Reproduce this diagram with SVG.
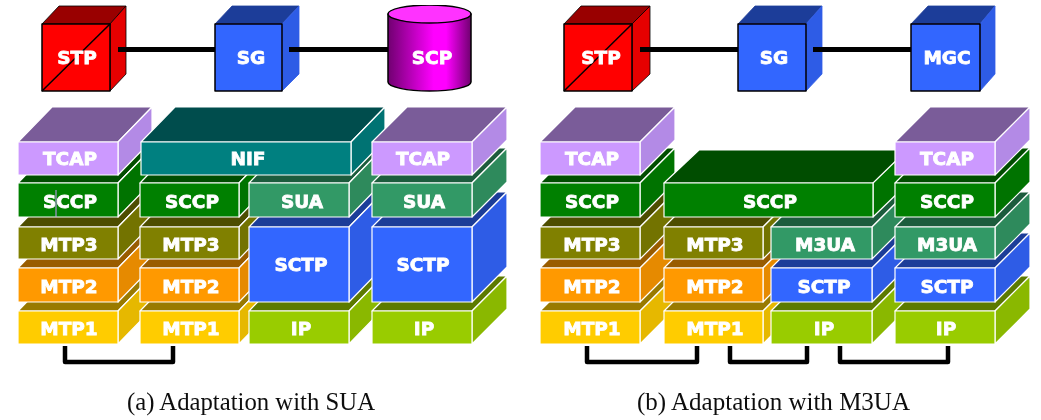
<svg xmlns="http://www.w3.org/2000/svg" width="1041" height="420" viewBox="0 0 1041 420">
<style>
.all{filter:url(#soft)}
.lay rect,.lay path{stroke:#fff;stroke-width:1.2;stroke-linejoin:round}
.lay text,.dev text{font-family:"DejaVu Sans",sans-serif;font-weight:700;font-size:18.5px;fill:#fff;text-anchor:middle;stroke:#fff;stroke-width:.8}
.dev rect,.dev path,.dev ellipse{stroke:#000;stroke-width:1.5;stroke-linejoin:round}
.red .f{fill:#f00}.red .t{fill:#990000;stroke-width:.8}.red .s{fill:#e60000;stroke-width:.8}
.blue .f{fill:#36f}.blue .t{fill:#1f3d99;stroke:#1f3d99;stroke-width:.8}.blue .s{fill:#2e5ce6;stroke:#2e5ce6;stroke-width:.8}
.tcap .f{fill:#c9f}.tcap .t{fill:#7a5c99}.tcap .s{fill:#b38ae6}
.sccp .f{fill:#008000}.sccp .t{fill:#004d00}.sccp .s{fill:#007300}
.mtp3 .f{fill:#808000}.mtp3 .t{fill:#4d4d00}.mtp3 .s{fill:#737300}
.mtp2 .f{fill:#f90}.mtp2 .t{fill:#995c00}.mtp2 .s{fill:#e68a00}
.mtp1 .f{fill:#fc0}.mtp1 .t{fill:#997a00}.mtp1 .s{fill:#e6b800}
.ip .f{fill:#9c0}.ip .t{fill:#5c7a00}.ip .s{fill:#8ab800}
.sctp .f{fill:#36f}.sctp .t{fill:#1f3d99}.sctp .s{fill:#2e5ce6}
.ua .f{fill:#396}.ua .t{fill:#1f5c3d}.ua .s{fill:#2e8a5c}
.nif .f{fill:#008080}.nif .t{fill:#004d4d}.nif .s{fill:#007373}
.cap{font-family:"Liberation Serif",serif;font-size:25px;fill:#111}
.link{stroke:#000;stroke-width:5;fill:none}
.br{stroke:#000;stroke-width:4.5;fill:none;stroke-linejoin:round}
</style>
<defs>
<filter id="soft" x="0" y="0" width="100%" height="100%"><feGaussianBlur stdDeviation="0.45"/></filter>
<linearGradient id="cyl" x1="0" x2="1" y1="0" y2="0"><stop offset="0" stop-color="#700070"/><stop offset=".55" stop-color="#f0f"/><stop offset=".7" stop-color="#f0f"/><stop offset="1" stop-color="#700070"/></linearGradient>
</defs>
<g class="all">
<g id="top-left">
<g id="a-stp" class="dev red"><path class="t" d="M42 24l17-18h67l-16 18z"/><path class="s" d="M110 24l16-18v68l-16 17z"/><rect class="f" x="42" y="24" width="68" height="67"/><path d="M42 91L110 24" fill="none" stroke-width="2"/><text x="77" y="64">STP</text></g>
<g id="a-sg" class="dev blue"><path class="t" d="M215 24l17-18h67l-17 18z"/><path class="s" d="M282 24l17-18v68l-17 17z"/><rect class="f" x="215" y="24" width="67" height="67"/><text x="251" y="64">SG</text></g>
<g id="a-scp" class="dev"><path d="M388 14v68a41.500 9 0 0 0 83 0V14z" fill="url(#cyl)"/><ellipse cx="429.500" cy="14" rx="41.500" ry="9" fill="#f3f"/><text x="432" y="64">SCP</text></g>
</g>
<g id="top-right">
<g id="b-stp" class="dev red"><path class="t" d="M564 24l17-18h69l-18 18z"/><path class="s" d="M632 24l18-18v68l-18 17z"/><rect class="f" x="564" y="24" width="68" height="67"/><path d="M564 91L632 24" fill="none" stroke-width="2"/><text x="601" y="64">STP</text></g>
<g id="b-sg" class="dev blue"><path class="t" d="M738 24l17-18h67l-16 18z"/><path class="s" d="M806 24l16-18v68l-16 17z"/><rect class="f" x="738" y="24" width="68" height="67"/><text x="774" y="64">SG</text></g>
<g id="b-mgc" class="dev blue"><path class="t" d="M911 24l17-18h67l-15 18z"/><path class="s" d="M980 24l15-18v68l-15 17z"/><rect class="f" x="911" y="24" width="69" height="67"/><text x="947" y="64">MGC</text></g>
</g>
<g id="stack-a">
<g id="a1-mtp1" class="lay mtp1"><path class="t" d="M18 311l34-35h100l-34 35z"/><path class="s" d="M118 311l34-35v33l-34 35z"/><rect class="f" x="18" y="311" width="100" height="33"/><text x="69" y="335">MTP1</text></g>
<g id="a1-mtp2" class="lay mtp2"><path class="t" d="M18 268l34-35h100l-34 35z"/><path class="s" d="M118 268l34-35v34l-34 35z"/><rect class="f" x="18" y="268" width="100" height="34"/><text x="69" y="293">MTP2</text></g>
<g id="a1-mtp3" class="lay mtp3"><path class="t" d="M18 227l34-35h100l-34 35z"/><path class="s" d="M118 227l34-35v32l-34 35z"/><rect class="f" x="18" y="227" width="100" height="32"/><text x="69" y="251">MTP3</text></g>
<g id="a1-sccp" class="lay sccp"><path class="t" d="M18 183l34-35h100l-34 35z"/><path class="s" d="M118 183l34-35v34l-34 35z"/><rect class="f" x="18" y="183" width="100" height="34"/><text x="70" y="208">SCCP</text></g>
<g id="a1-tcap" class="lay tcap"><path class="t" d="M18 142l34-35h100l-34 35z"/><path class="s" d="M118 142l34-35v33l-34 35z"/><rect class="f" x="18" y="142" width="100" height="33"/><text x="70" y="165">TCAP</text></g>
<path d="M56 190V217" stroke="#c9f" stroke-width="1"/>
<g id="a2-mtp1" class="lay mtp1"><path class="t" d="M140 311l34-35h99l-34 35z"/><path class="s" d="M239 311l34-35v33l-34 35z"/><rect class="f" x="140" y="311" width="99" height="33"/><text x="191" y="335">MTP1</text></g>
<g id="a2-mtp2" class="lay mtp2"><path class="t" d="M140 268l34-35h99l-34 35z"/><path class="s" d="M239 268l34-35v34l-34 35z"/><rect class="f" x="140" y="268" width="99" height="34"/><text x="191" y="293">MTP2</text></g>
<g id="a2-mtp3" class="lay mtp3"><path class="t" d="M140 227l34-35h99l-34 35z"/><path class="s" d="M239 227l34-35v32l-34 35z"/><rect class="f" x="140" y="227" width="99" height="32"/><text x="191" y="251">MTP3</text></g>
<g id="a2-sccp" class="lay sccp"><path class="t" d="M140 183l34-35h99l-34 35z"/><path class="s" d="M239 183l34-35v34l-34 35z"/><rect class="f" x="140" y="183" width="99" height="34"/><text x="192" y="208">SCCP</text></g>
<g id="a3-ip" class="lay ip"><path class="t" d="M249 311l34-35h100l-34 35z"/><path class="s" d="M349 311l34-35v33l-34 35z"/><rect class="f" x="249" y="311" width="100" height="33"/><text x="301" y="335">IP</text></g>
<g id="a3-sctp" class="lay sctp"><path class="t" d="M249 227l34-35h100l-34 35z"/><path class="s" d="M349 227l34-35v75l-34 35z"/><rect class="f" x="249" y="227" width="100" height="75"/><text x="301" y="271">SCTP</text></g>
<g id="a3-sua" class="lay ua"><path class="t" d="M249 183l34-35h100l-34 35z"/><path class="s" d="M349 183l34-35v34l-34 35z"/><rect class="f" x="249" y="183" width="100" height="34"/><text x="302" y="208">SUA</text></g>
<g id="a-nif" class="lay nif"><path class="t" d="M141 142l34-35h210l-34 35z"/><path class="s" d="M351 142l34-35v33l-34 35z"/><rect class="f" x="141" y="142" width="210" height="33"/><text x="248" y="165">NIF</text></g>
<g id="a4-ip" class="lay ip"><path class="t" d="M372 311l35-35h100l-35 35z"/><path class="s" d="M472 311l35-35v33l-35 35z"/><rect class="f" x="372" y="311" width="100" height="33"/><text x="424" y="335">IP</text></g>
<g id="a4-sctp" class="lay sctp"><path class="t" d="M372 227l35-35h100l-35 35z"/><path class="s" d="M472 227l35-35v75l-35 35z"/><rect class="f" x="372" y="227" width="100" height="75"/><text x="423" y="271">SCTP</text></g>
<g id="a4-sua" class="lay ua"><path class="t" d="M372 183l35-35h100l-35 35z"/><path class="s" d="M472 183l35-35v34l-35 35z"/><rect class="f" x="372" y="183" width="100" height="34"/><text x="424" y="208">SUA</text></g>
<g id="a4-tcap" class="lay tcap"><path class="t" d="M372 142l35-35h100l-35 35z"/><path class="s" d="M472 142l35-35v33l-35 35z"/><rect class="f" x="372" y="142" width="100" height="33"/><text x="423" y="165">TCAP</text></g>
</g>
<g id="stack-b">
<g id="b1-mtp1" class="lay mtp1"><path class="t" d="M540 311l35-35h100l-35 35z"/><path class="s" d="M640 311l35-35v33l-35 35z"/><rect class="f" x="540" y="311" width="100" height="33"/><text x="592" y="335">MTP1</text></g>
<g id="b1-mtp2" class="lay mtp2"><path class="t" d="M540 268l35-35h100l-35 35z"/><path class="s" d="M640 268l35-35v34l-35 35z"/><rect class="f" x="540" y="268" width="100" height="34"/><text x="592" y="293">MTP2</text></g>
<g id="b1-mtp3" class="lay mtp3"><path class="t" d="M540 227l35-35h100l-35 35z"/><path class="s" d="M640 227l35-35v32l-35 35z"/><rect class="f" x="540" y="227" width="100" height="32"/><text x="592" y="251">MTP3</text></g>
<g id="b1-sccp" class="lay sccp"><path class="t" d="M540 183l35-35h100l-35 35z"/><path class="s" d="M640 183l35-35v34l-35 35z"/><rect class="f" x="540" y="183" width="100" height="34"/><text x="592" y="208">SCCP</text></g>
<g id="b1-tcap" class="lay tcap"><path class="t" d="M540 142l35-35h100l-35 35z"/><path class="s" d="M640 142l35-35v33l-35 35z"/><rect class="f" x="540" y="142" width="100" height="33"/><text x="592" y="165">TCAP</text></g>
<g id="b2-mtp1" class="lay mtp1"><path class="t" d="M664 311l35-35h99l-35 35z"/><path class="s" d="M763 311l35-35v33l-35 35z"/><rect class="f" x="664" y="311" width="99" height="33"/><text x="715" y="335">MTP1</text></g>
<g id="b2-mtp2" class="lay mtp2"><path class="t" d="M664 268l35-35h99l-35 35z"/><path class="s" d="M763 268l35-35v34l-35 35z"/><rect class="f" x="664" y="268" width="99" height="34"/><text x="715" y="293">MTP2</text></g>
<g id="b2-mtp3" class="lay mtp3"><path class="t" d="M664 227l35-35h99l-35 35z"/><path class="s" d="M763 227l35-35v32l-35 35z"/><rect class="f" x="664" y="227" width="99" height="32"/><text x="715" y="251">MTP3</text></g>
<g id="b3-ip" class="lay ip"><path class="t" d="M771 311l35-35h101l-35 35z"/><path class="s" d="M872 311l35-35v33l-35 35z"/><rect class="f" x="771" y="311" width="101" height="33"/><text x="824" y="335">IP</text></g>
<g id="b3-sctp" class="lay sctp"><path class="t" d="M771 268l35-35h101l-35 35z"/><path class="s" d="M872 268l35-35v34l-35 35z"/><rect class="f" x="771" y="268" width="101" height="34"/><text x="824" y="293">SCTP</text></g>
<g id="b3-m3ua" class="lay ua"><path class="t" d="M771 227l35-35h101l-35 35z"/><path class="s" d="M872 227l35-35v32l-35 35z"/><rect class="f" x="771" y="227" width="101" height="32"/><text x="825" y="251">M3UA</text></g>
<g id="b-sccp" class="lay sccp"><path class="t" d="M664 183l35-33h209l-34 33z"/><path class="s" d="M873 183l34-33v34l-34 33z"/><rect class="f" x="664" y="183" width="209" height="34"/><text x="770" y="208">SCCP</text></g>
<g id="b4-ip" class="lay ip"><path class="t" d="M895 311l35-35h100l-35 35z"/><path class="s" d="M995 311l35-35v33l-35 35z"/><rect class="f" x="895" y="311" width="100" height="33"/><text x="946" y="335">IP</text></g>
<g id="b4-sctp" class="lay sctp"><path class="t" d="M895 268l35-35h100l-35 35z"/><path class="s" d="M995 268l35-35v34l-35 35z"/><rect class="f" x="895" y="268" width="100" height="34"/><text x="947" y="293">SCTP</text></g>
<g id="b4-m3ua" class="lay ua"><path class="t" d="M895 227l35-35h100l-35 35z"/><path class="s" d="M995 227l35-35v32l-35 35z"/><rect class="f" x="895" y="227" width="100" height="32"/><text x="947" y="251">M3UA</text></g>
<g id="b4-sccp" class="lay sccp"><path class="t" d="M895 183l35-35h100l-35 35z"/><path class="s" d="M995 183l35-35v34l-35 35z"/><rect class="f" x="895" y="183" width="100" height="34"/><text x="947" y="208">SCCP</text></g>
<g id="b4-tcap" class="lay tcap"><path class="t" d="M895 142l35-35h100l-35 35z"/><path class="s" d="M995 142l35-35v33l-35 35z"/><rect class="f" x="895" y="142" width="100" height="33"/><text x="947" y="165">TCAP</text></g>
</g>
<g id="connectors">
<path class="link" d="M118 49.500H215M289 49.500H388M640 49.500H738M813 49.500H911"/>
<path class="br" d="M65 346V362H173V346M587 346V362H697V346M730 346V362H807V346M840 346V362H948V346"/>
</g>
<text class="cap" x="127" y="410" textLength="248" lengthAdjust="spacingAndGlyphs">(a) Adaptation with SUA</text>
<text class="cap" x="637" y="410" textLength="273" lengthAdjust="spacingAndGlyphs">(b) Adaptation with M3UA</text>
</g>
</svg>
